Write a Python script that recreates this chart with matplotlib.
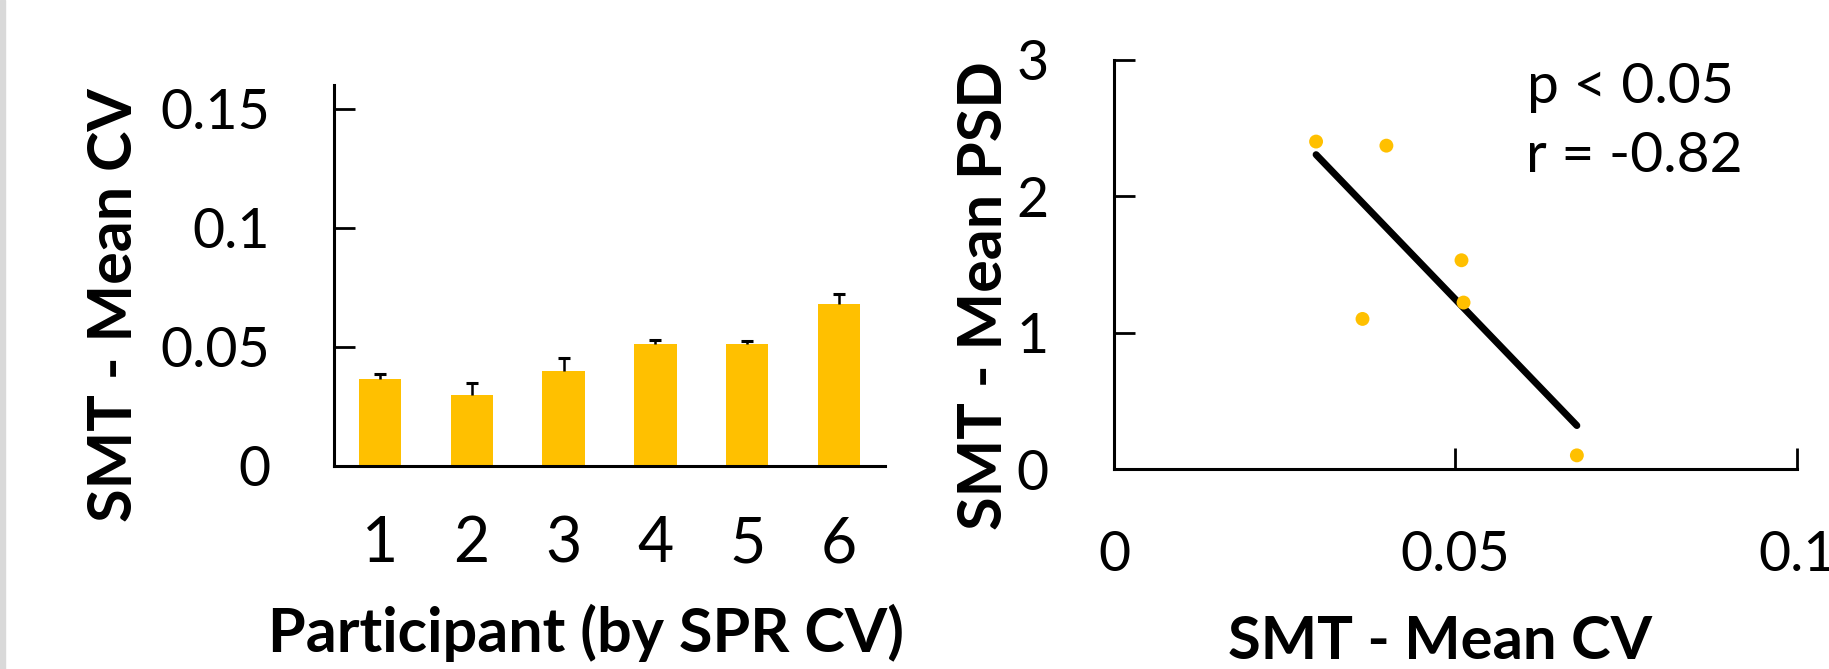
import numpy as np
import matplotlib.pyplot as plt
from matplotlib.patches import Rectangle

plt.rcParams['font.family'] = ['Lato', 'DejaVu Sans']

participants = [1, 2, 3, 4, 5, 6]
cv_mean = [0.0364, 0.0296, 0.0399, 0.0509, 0.0512, 0.0678]   # SMT mean CV per participant
cv_err = [0.0021, 0.0051, 0.0053, 0.0017, 0.0010, 0.0045]    # upper error only
psd_mean = [1.10, 2.40, 2.37, 1.53, 1.22, 0.10]              # SMT mean PSD per participant

GOLD = '#FFC000'
W, H = 1829, 669

fig = plt.figure(figsize=(W / 100, H / 100), dpi=100)
fig.patches.append(Rectangle((0, 0), 5 / W, 1, transform=fig.transFigure,
                             color='#d9d9d9', zorder=0))


def px_axes(x0, x1, y_top, y_bot):
    # axes box given in pixel coords of the figure
    return fig.add_axes([x0 / W, 1 - y_bot / H, (x1 - x0) / W, (y_bot - y_top) / H])


# --- left: bar chart of mean CV
ax1 = px_axes(334, 885, 85, 465.5)
ax1.bar(participants, cv_mean, width=0.46, color=GOLD, zorder=2)
tops = np.array(cv_mean) + np.array(cv_err)
ax1.vlines(participants, cv_mean, tops, color='black', lw=1.8, zorder=3)
ax1.plot(participants, tops, ls='none', marker='_', ms=9, mew=2.2,
         color='black', zorder=3)

ax1.set_xlim(0.5, 6.5)
ax1.set_ylim(0, 0.16)
ax1.set_xticks(participants)
ax1.set_xticklabels([str(p) for p in participants])
ax1.set_yticks([0, 0.05, 0.1, 0.15])
ax1.set_yticklabels(['0', '0.05', '0.1', '0.15'])
ax1.tick_params(axis='y', direction='in', length=15, width=2, pad=46, labelsize=40)
ax1.tick_params(axis='x', length=0, pad=36, labelsize=45)
for s in ['top', 'right']:
    ax1.spines[s].set_visible(False)
for s in ['left', 'bottom']:
    ax1.spines[s].set_linewidth(2.2)

ax1.set_ylabel('SMT - Mean CV', fontsize=44, fontweight='bold', va='center')
ax1.yaxis.set_label_coords(-0.399, 0.421)
ax1.set_xlabel('Participant (by SPR CV)', fontsize=44, fontweight='bold', va='baseline')
ax1.xaxis.set_label_coords(0.458, -0.490)

# --- right: PSD vs CV with linear fit
ax2 = px_axes(1114, 1796.7, 59.7, 469)
ax2.scatter(cv_mean, psd_mean, s=100, color=GOLD, edgecolors='none', zorder=3)
slope, icpt = np.polyfit(cv_mean, psd_mean, 1)
xf = np.array([min(cv_mean), max(cv_mean)])
ax2.plot(xf, slope * xf + icpt, color='black', lw=5, solid_capstyle='round', zorder=2)

ax2.set_xlim(0, 0.1)
ax2.set_ylim(0, 3)
ax2.set_xticks([0, 0.05, 0.1])
ax2.set_xticklabels(['0', '0.05', '0.1'])
ax2.set_yticks([0, 1, 2, 3])
ax2.set_yticklabels(['0', '1', '2', '3'])
ax2.tick_params(axis='both', direction='in', length=15, width=2, labelsize=40)
ax2.tick_params(axis='x', pad=44)
ax2.tick_params(axis='y', pad=47)
for s in ['top', 'right']:
    ax2.spines[s].set_visible(False)
for s in ['left', 'bottom']:
    ax2.spines[s].set_linewidth(2.2)

ax2.set_ylabel('SMT - Mean PSD', fontsize=44, fontweight='bold', va='center')
ax2.yaxis.set_label_coords(-0.19, 0.424)
ax2.set_xlabel('SMT - Mean CV', fontsize=43, fontweight='bold', va='baseline')
ax2.xaxis.set_label_coords(0.478, -0.464)

ax2.text(0.0605, 2.683, 'p < 0.05', fontsize=41)
ax2.text(0.0604, 2.177, 'r = -0.82', fontsize=41)

fig.savefig('out.png', dpi=100)
